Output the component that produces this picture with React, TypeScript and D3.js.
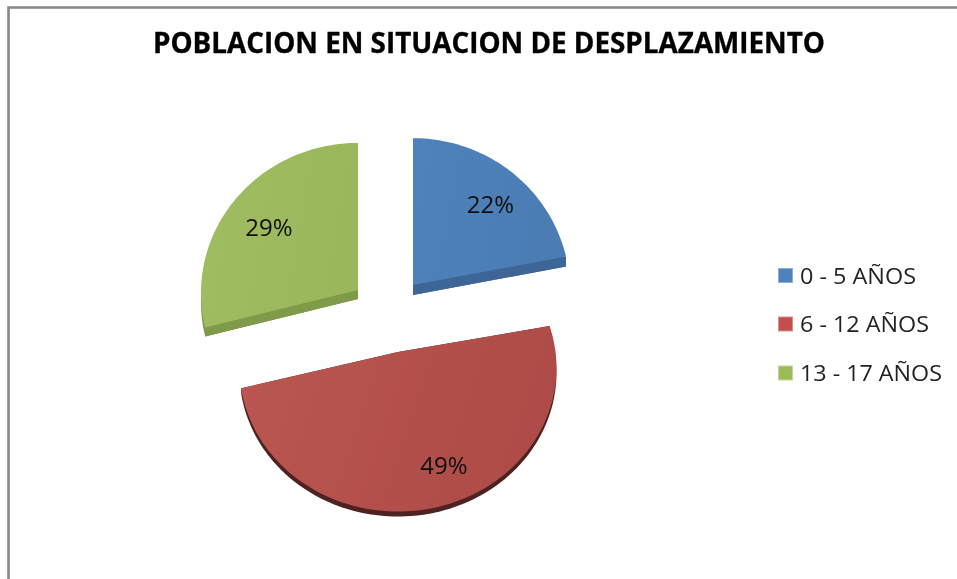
import React from "react";
import * as d3 from "d3";

const title = "POBLACION EN SITUACION DE DESPLAZAMIENTO";
const categories = ["0 - 5 AÑOS", "6 - 12 AÑOS", "13 - 17 AÑOS"];
const values = [22, 49, 29];

const W = 957, H = 579;
const apexes: [number, number][] = [[413, 285], [398, 352], [358, 290]];
const radiiX = [157, 157.5, 157];
const radiiY = [153, 142, 150];
const perspective = [0.042, 0.11, 0.02];
const labelPos: [number, number][] = [[490.5, 205], [444, 466], [269, 228]];
const depths = [10, 5, 9];
const sideColors = ["#3e6696", "#4f2220", "#7f9a49"];
const gradStops: [string, string][] = [["#4f82bc", "#4b7cb4"], ["#bb5652", "#ae4c48"], ["#a0bd62", "#9ab75b"]];
const legendColors = ["#4f81bd", "#c0504d", "#9bbb59"];
const legendEdge = ["#8fb0d8", "#d98f8d", "#c3d69b"];
const legendY = [275.5, 324, 373];
const legendWidths = [116, 129, 142];

const project = (a: number, i: number, dy = 0): [number, number] => {
  const u = Math.sin(a), v = -Math.cos(a);
  const s = 1 / (1 - perspective[i] * v);
  return [apexes[i][0] + radiiX[i] * u * s, apexes[i][1] + radiiY[i] * v * s + dy];
};

const line = d3.line();
const pie = d3.pie<number>().sort(null);
const arcs = pie(values);

const slicePts = (start: number, end: number, i: number, dy = 0) => {
  const n = Math.max(2, Math.ceil((end - start) * 40));
  const pts: [number, number][] = d3.range(n + 1).map((k) => project(start + ((end - start) * k) / n, i, dy));
  return [[apexes[i][0], apexes[i][1] + dy] as [number, number], ...pts];
};

export default function App() {
  return (
    <svg width={W} height={H} style={{ position: "absolute", left: 0, top: 0, display: "block", background: "#fff" }}>
      <defs>
        {gradStops.map((g, i) => (
          <linearGradient key={i} id={`g${i}`} x1="0" x2="1" y1="0" y2="0.2">
            <stop offset="0" stopColor={g[0]} />
            <stop offset="1" stopColor={g[1]} />
          </linearGradient>
        ))}
        <filter id="soft" x="-2%" y="-10%" width="104%" height="120%">
          <feGaussianBlur stdDeviation="0.5" />
        </filter>
      </defs>
      <path d={`M8.5,${H}V7.5H${W}`} fill="none" stroke="#888888" strokeWidth={2.6} />
      <g filter="url(#soft)">
        <text x={489} y={53} textAnchor="middle" fontFamily="'Open Sans', sans-serif" fontWeight={700} fontSize={28} textLength={672} lengthAdjust="spacingAndGlyphs" stroke="#000" strokeWidth={0.35} fill="#000">
          {title}
        </text>
        {arcs.map((d, i) => {
          const ap = apexes[i], dp = depths[i];
          const top = slicePts(d.startAngle, d.endAngle, i);
          const low = slicePts(d.startAngle, d.endAngle, i, dp);
          const first = project(d.startAngle, i), last = project(d.endAngle, i);
          const quad = (p: [number, number]): [number, number][] => [ap, p, [p[0], p[1] + dp], [ap[0], ap[1] + dp]];
          return (
            <g key={i}>
              <path d={line(low) + "Z"} fill={sideColors[i]} />
              <path d={line(quad(first)) + "Z"} fill={sideColors[i]} />
              <path d={line(quad(last)) + "Z"} fill={sideColors[i]} />
              <path d={line(top) + "Z"} fill={`url(#g${i})`} />
            </g>
          );
        })}
        {arcs.map((d, i) => (
          <text key={i} x={labelPos[i][0]} y={labelPos[i][1] + 8} textAnchor="middle" fontFamily="'Open Sans', sans-serif" fontSize={24} fill="#111">
            {`${d.data}%`}
          </text>
        ))}
        {categories.map((c, i) => (
          <g key={c}>
            <rect x={778.5} y={legendY[i] - 7} width={14} height={14} fill={legendColors[i]} stroke={legendEdge[i]} strokeWidth={1} />
            <text x={800} y={legendY[i] + 8} fontFamily="'Open Sans', sans-serif" fontSize={22} textLength={legendWidths[i]} lengthAdjust="spacingAndGlyphs" fill="#222">
              {c}
            </text>
          </g>
        ))}
      </g>
    </svg>
  );
}
